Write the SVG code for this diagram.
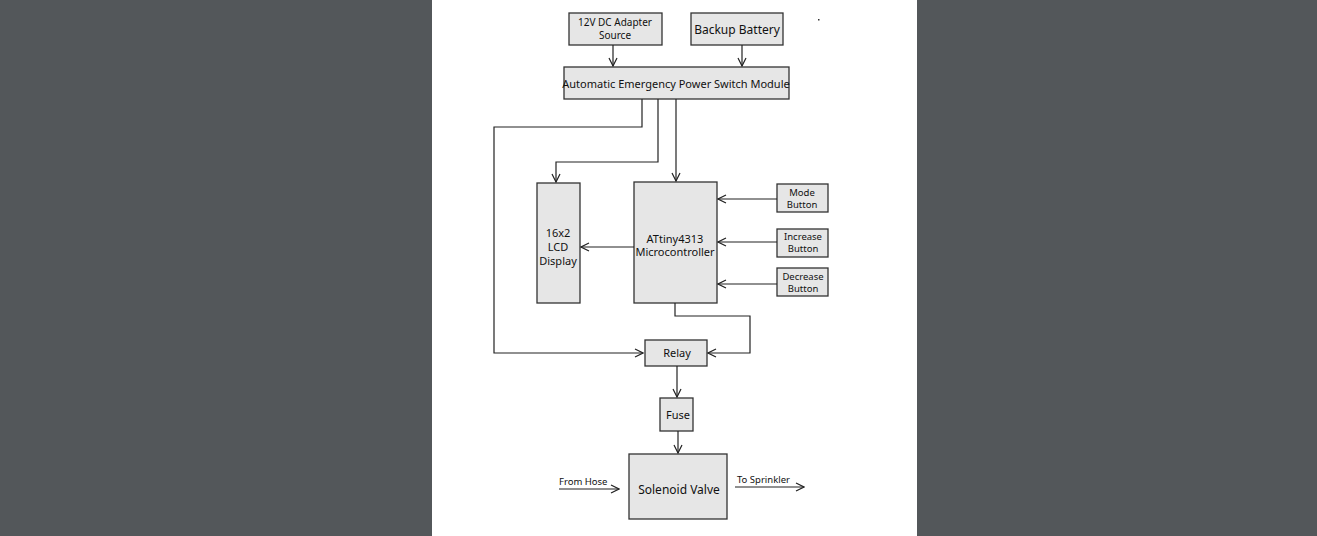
<svg xmlns="http://www.w3.org/2000/svg" width="1317" height="536" viewBox="0 0 1317 536">
<style>
.b{fill:#e6e6e6;stroke:#333;stroke-width:1.3}
.t{font-family:"Noto Sans","DejaVu Sans",sans-serif;fill:#111;text-anchor:middle}
.c{fill:none;stroke:#222;stroke-width:1.2}
</style>
<defs><marker id="a" markerWidth="10" markerHeight="10" refX="9" refY="5" orient="auto" markerUnits="userSpaceOnUse"><path d="M1,1 L9,5 L1,9" fill="none" stroke="#222" stroke-width="1.2"/></marker></defs>
<rect width="1317" height="536" fill="#53575a"/>
<rect x="432" y="0" width="485" height="536" fill="#fff"/>
<rect x="818" y="19" width="1.5" height="1.5" fill="#333"/>
<g id="adapter"><rect class="b" x="569" y="13" width="93" height="32"/><text class="t" font-size="10" x="615" y="26">12V DC Adapter</text><text class="t" font-size="10" x="615" y="39">Source</text></g>
<g id="battery"><rect class="b" x="691" y="13" width="92" height="32"/><text class="t" font-size="12" x="737" y="34">Backup Battery</text></g>
<g id="switch"><rect class="b" x="564" y="67" width="225" height="32"/><text class="t" font-size="11" x="676" y="88">Automatic Emergency Power Switch Module</text></g>
<g id="lcd"><rect class="b" x="537" y="183" width="43" height="120"/><text class="t" font-size="11" x="558" y="237">16x2</text><text class="t" font-size="11" x="558" y="251">LCD</text><text class="t" font-size="11" x="558" y="265">Display</text></g>
<g id="mcu"><rect class="b" x="634" y="182" width="83" height="121"/><text class="t" font-size="11" x="675" y="243">ATtiny4313</text><text class="t" font-size="11" x="675" y="256">Microcontroller</text></g>
<g id="mode"><rect class="b" x="777" y="184" width="51" height="28"/><text class="t" font-size="9.5" x="802" y="196">Mode</text><text class="t" font-size="9.5" x="802" y="208">Button</text></g>
<g id="inc"><rect class="b" x="777" y="229" width="51" height="28"/><text class="t" font-size="9.5" x="803" y="240">Increase</text><text class="t" font-size="9.5" x="803" y="252">Button</text></g>
<g id="dec"><rect class="b" x="777" y="268" width="51" height="28"/><text class="t" font-size="9.5" x="803" y="280">Decrease</text><text class="t" font-size="9.5" x="803" y="292">Button</text></g>
<g id="relay"><rect class="b" x="645" y="340" width="62" height="26"/><text class="t" font-size="11" x="677" y="357">Relay</text></g>
<g id="fuse"><rect class="b" x="660" y="398" width="33" height="33"/><text class="t" font-size="11" x="678" y="419">Fuse</text></g>
<g id="valve"><rect class="b" x="629" y="454" width="98" height="65"/><text class="t" font-size="12" x="679" y="494">Solenoid Valve</text></g>
<g id="connectors">
<path class="c" d="M613,45V66" marker-end="url(#a)"/>
<path class="c" d="M742,45V66" marker-end="url(#a)"/>
<path class="c" d="M642,99V127H494V353H643" marker-end="url(#a)"/>
<path class="c" d="M658,99V162H556V182" marker-end="url(#a)"/>
<path class="c" d="M676,99V181" marker-end="url(#a)"/>
<path class="c" d="M777,199H718" marker-end="url(#a)"/>
<path class="c" d="M777,242H718" marker-end="url(#a)"/>
<path class="c" d="M777,284H718" marker-end="url(#a)"/>
<path class="c" d="M634,247H581" marker-end="url(#a)"/>
<path class="c" d="M675,303V316H750V353H708" marker-end="url(#a)"/>
<path class="c" d="M677,366V397" marker-end="url(#a)"/>
<path class="c" d="M678,431V453" marker-end="url(#a)"/>
<path class="c" d="M559,489H619" marker-end="url(#a)"/>
<path class="c" d="M735,487H804" marker-end="url(#a)"/>
</g>
<text font-family="Noto Sans,DejaVu Sans,sans-serif" font-size="9.5" x="559" y="485" fill="#111">From Hose</text>
<text font-family="Noto Sans,DejaVu Sans,sans-serif" font-size="9.5" x="737" y="483" fill="#111">To Sprinkler</text>
</svg>
